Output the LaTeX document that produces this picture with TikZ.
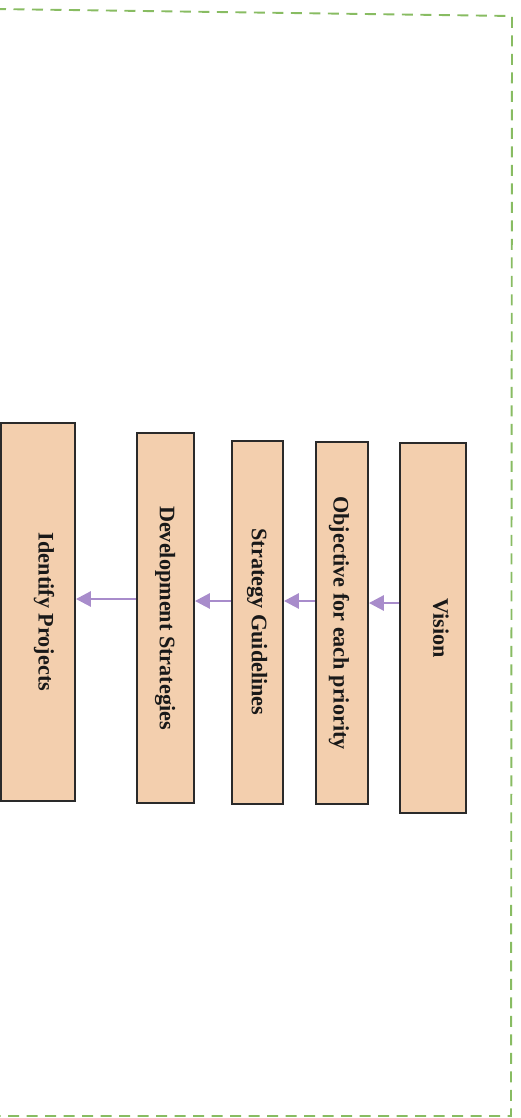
\documentclass[tikz,border=0pt]{standalone}
\usepackage{fontspec}
\setmainfont{Liberation Serif}
\usetikzlibrary{arrows.meta,calc}
\definecolor{peach}{HTML}{F3CFAE}
\definecolor{boxline}{HTML}{2A2A2A}
\definecolor{lav}{HTML}{A88CCB}
\definecolor{dashgreen}{HTML}{88BC62}
\tikzset{
  stepbox/.style={draw=boxline, fill=peach, line width=1.8pt, inner sep=0pt},
  lbl/.style={rotate=-90, inner sep=0pt, font=\fontsize{22.2}{27}\selectfont\bfseries, text=black!90},
  arr/.style={draw=lav, line width=2.8pt, -{Triangle[length=15pt,width=15pt]}},
  frame/.style={draw=dashgreen, line width=1.9pt, dash pattern=on 11pt off 7.5pt}
}
\begin{document}
\begin{tikzpicture}[x=1pt,y=-1pt]
\useasboundingbox (0,0) rectangle (521,1118);
\draw[frame] (-5,9) -- (512,16) -- (511,1116) -- (-5,1116);
% boxes
\node[stepbox, minimum width=74pt, minimum height=378pt] (ip) at (38,612) {};
\node[stepbox, minimum width=57pt, minimum height=370pt] (ds) at (165.5,618) {};
\node[stepbox, minimum width=51pt, minimum height=363pt] (sg) at (257.5,622.5) {};
\node[stepbox, minimum width=52pt, minimum height=362pt] (ob) at (342,623) {};
\node[stepbox, minimum width=66pt, minimum height=370pt] (vi) at (433,628) {};
% labels
\node[lbl] (ipt) at (44,612) {Identify Projects};
\node[lbl] (dst) at (165,618) {Development Strategies};
\node[lbl] (sgt) at (257,622) {Strategy Guidelines};
\node[lbl] (obt) at (339,623) {Objective for each priority};
\node[lbl] (vit) at (441,628) {Vision};
% arrows
\draw[arr] (vi.west |- 0,603) -- (ob.east |- 0,603);
\draw[arr] (ob.west |- 0,601) -- (sg.east |- 0,601);
\draw[arr] (sg.west |- 0,601) -- (ds.east |- 0,601);
\draw[arr] (ds.west |- 0,599) -- (ip.east |- 0,599);
\end{tikzpicture}
\end{document}
